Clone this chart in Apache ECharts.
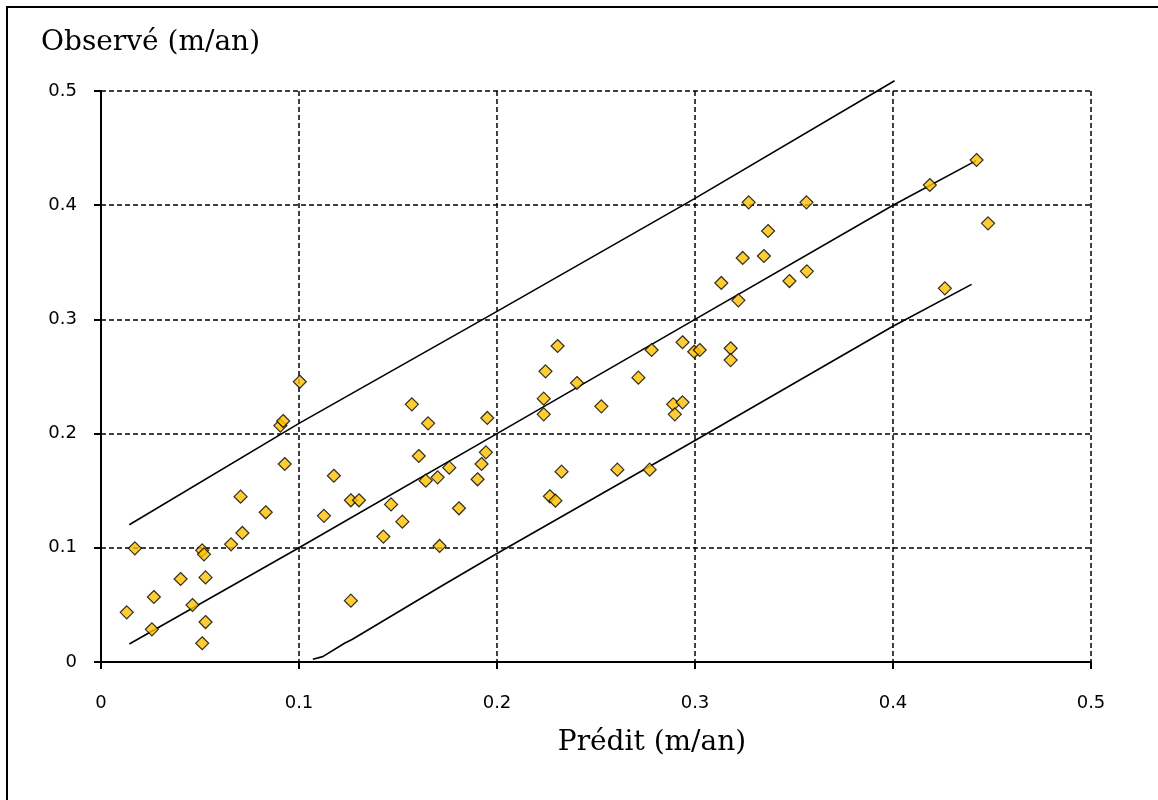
<!DOCTYPE html>
<html><head><meta charset="utf-8">
<script src="https://cdn.jsdelivr.net/npm/echarts@6/dist/echarts.min.js"></script>
<style>html,body{margin:0;padding:0;background:#fff}#c{width:1158px;height:800px}</style>
</head><body><div id="c"></div>
<script>
const xTicks = [0, 0.1, 0.2, 0.3, 0.4, 0.5];
const yTicks = [0, 0.1, 0.2, 0.3, 0.4, 0.5];
const xTitle = 'Prédit (m/an)';
const yTitle = 'Observé (m/an)';
const observedPoints = [
 [0.013,0.0435],[0.0171,0.0995],[0.0267,0.0569],[0.0257,0.0286],[0.0402,0.0727],[0.0462,0.0499],
 [0.0511,0.0978],[0.052,0.0943],[0.0528,0.0741],[0.0528,0.035],[0.0511,0.0164],[0.0657,0.103],
 [0.0705,0.1448],[0.0714,0.113],[0.0832,0.1311],[0.0906,0.207],[0.092,0.211],[0.0928,0.1734],
 [0.1004,0.2454],[0.1126,0.128],[0.1176,0.1631],[0.1262,0.1416],[0.1303,0.1416],[0.1262,0.0537],
 [0.1426,0.1098],[0.1465,0.138],[0.1522,0.1229],[0.157,0.2256],[0.1605,0.1804],[0.164,0.1588],
 [0.1652,0.209],[0.170,0.1617],[0.171,0.1016],[0.1759,0.1702],[0.1808,0.1346],[0.1902,0.16],
 [0.1922,0.1734],[0.1944,0.1836],[0.1951,0.2137],[0.2236,0.2306],[0.2236,0.2169],[0.2245,0.2545],
 [0.2306,0.2767],[0.2404,0.2443],[0.2267,0.1451],[0.2295,0.1413],[0.2326,0.1667],[0.2527,0.2239],
 [0.2608,0.1684],[0.2714,0.249],[0.2771,0.1684],[0.2781,0.2732],[0.289,0.2256],[0.2898,0.2169],
 [0.2937,0.2274],[0.2937,0.28],[0.2996,0.2717],[0.3024,0.2732],[0.3133,0.3319],[0.318,0.2747],
 [0.318,0.2644],[0.3219,0.3167],[0.3241,0.3538],[0.3271,0.4025],[0.3348,0.3555],[0.3369,0.3774],
 [0.3477,0.3336],[0.3563,0.4025],[0.3565,0.3421],[0.4186,0.4177],[0.4422,0.4396],[0.448,0.3841],
 [0.4262,0.3272]
];
const fitLine = [[0.0143,0.0158],[0.1,0.1],[0.2,0.2],[0.3,0.3],[0.4,0.4],[0.442,0.439]];
const upperLine = [[0.0143,0.1202],[0.1,0.209],[0.2,0.307],[0.3,0.406],[0.4008,0.509]];
const lowerLine = [[0.107,0.0024],[0.112,0.0047],[0.123,0.0164],[0.127,0.0199],[0.172,0.0666],[0.2,0.095],[0.3,0.194],[0.4,0.294],[0.4397,0.3307]];

const chart = echarts.init(document.getElementById('c'), null, {renderer:'canvas'});
const gridStyle = {show:true, lineStyle:{color:'#000', width:1.5, type:[5,3]}};
const lbl = {color:'#000', fontFamily:'DejaVu Sans', fontSize:18};
const lineSeries = (d) => ({type:'line', data:d, showSymbol:false, symbol:'none', clip:false, z:2,
  lineStyle:{color:'#000', width:1.6}, silent:true});
chart.setOption({
  animation:false,
  backgroundColor:'#fff',
  grid:{left:101, right:67, top:91, bottom:138},
  xAxis:{type:'value', min:xTicks[0], max:xTicks[xTicks.length-1], interval:0.1,
    axisLine:{show:true, onZero:false, lineStyle:{color:'#000', width:2}},
    axisTick:{show:true, length:7, lineStyle:{color:'#000', width:2}},
    axisLabel:Object.assign({margin:32, formatter:v=>String(+v.toFixed(1))}, lbl),
    splitLine:gridStyle},
  yAxis:{type:'value', min:yTicks[0], max:yTicks[yTicks.length-1], interval:0.1,
    axisLine:{show:true, onZero:false, lineStyle:{color:'#000', width:2}},
    axisTick:{show:true, length:7, lineStyle:{color:'#000', width:2}},
    axisLabel:Object.assign({margin:24, formatter:v=>String(+v.toFixed(1))}, lbl),
    splitLine:gridStyle},
  graphic:[
    {type:'rect', shape:{x:7, y:7, width:1300, height:1000}, style:{fill:null, stroke:'#000', lineWidth:2}, silent:true, z:-1},
    {type:'text', x:41, y:43, style:{text:yTitle, font:'28px "DejaVu Serif"', fill:'#000', align:'left', verticalAlign:'middle'}},
    {type:'text', x:652, y:743, style:{text:xTitle, font:'28px "DejaVu Serif"', fill:'#000', align:'center', verticalAlign:'middle'}}
  ],
  series:[
    lineSeries(upperLine), lineSeries(fitLine), lineSeries(lowerLine),
    {type:'scatter', data:observedPoints, symbol:'diamond', symbolSize:13, z:5,
     itemStyle:{color:'#FFC000', borderColor:'#000', borderWidth:1.2}}
  ]
});
</script></body></html>
